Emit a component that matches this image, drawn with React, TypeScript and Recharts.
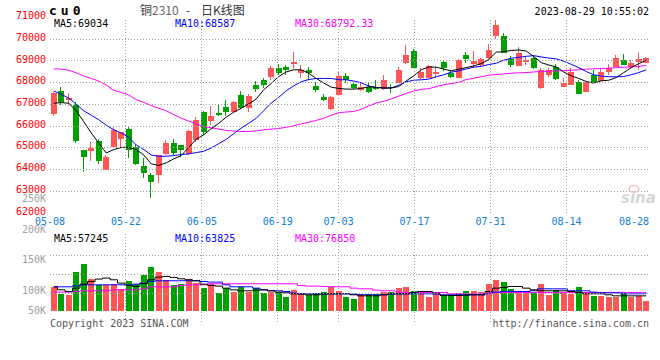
import { ComposedChart, Bar, Line, XAxis, YAxis, ReferenceArea } from 'recharts';

const MONO = '"DejaVu Sans Mono", monospace';
const RED = '#ff5555';
const GREEN = '#00a000';
const DATE_BLUE = '#0f7fd8';
const GRID = '#a0a0a0';

// panel layout (matches the chart margins below)
const PLOT_LEFT = 50;
const PLOT_RIGHT = 650;
const PRICE_TOP = 20;
const PRICE_BOTTOM = 213;
const VOL_TOP = 234;
const VOL_BOTTOM = 311;
const VOL_LABEL_MAX = 314.4; // lowest baseline for volume axis labels

const DATES = [
  '05-08', '05-09', '05-10', '05-11', '05-12', '05-15', '05-16', '05-17', '05-18', '05-19',
  '05-22', '05-23', '05-24', '05-25', '05-26', '05-29', '05-30', '05-31', '06-01', '06-02',
  '06-05', '06-06', '06-07', '06-08', '06-09', '06-12', '06-13', '06-14', '06-15', '06-16',
  '06-19', '06-20', '06-21', '06-26', '06-27', '06-28', '06-29', '06-30', '07-03', '07-04',
  '07-05', '07-06', '07-07', '07-10', '07-11', '07-12', '07-13', '07-14', '07-17', '07-18',
  '07-19', '07-20', '07-21', '07-24', '07-25', '07-26', '07-27', '07-28', '07-31', '08-01',
  '08-02', '08-03', '08-04', '08-07', '08-08', '08-09', '08-10', '08-11', '08-14', '08-15',
  '08-16', '08-17', '08-18', '08-21', '08-22', '08-23', '08-24', '08-25', '08-28', '08-29',
];
const DATE_TICKS = ['05-08', '05-22', '06-05', '06-19', '07-03', '07-17', '07-31', '08-14', '08-28'];
const GRID_DATES = ['05-22', '06-05', '06-19', '07-03', '07-17', '07-31', '08-14'];

const OPEN = [
  66550, 67600, 67170, 66990, 64890, 64890, 65310, 64000, 65010, 65370,
  65860, 65020, 64170, 63760, 63770, 64700, 65220, 65130, 64700, 65330,
  66650, 66240, 66590, 66880, 66650, 67430, 66820, 67880, 68110, 68270,
  68660, 68720, 68860, 68450, 68590, 67840, 67340, 66790, 67440, 68300,
  67920, 67660, 67810, 67820, 67730, 67780, 68010, 68920, 69470, 68230,
  68230, 68430, 68970, 68420, 68230, 69290, 68890, 68830, 69150, 70150,
  70150, 69100, 68800, 68980, 69150, 67780, 68390, 68740, 67780, 67920,
  68050, 67570, 68330, 68100, 68510, 68740, 69060, 68740, 68970, 68920,
];
const HIGH = [
  67550, 67800, 67500, 67110, 64900, 65280, 65400, 64670, 66010, 65740,
  65980, 65180, 64520, 63850, 64670, 65360, 65400, 65140, 65800, 66440,
  66710, 66910, 67020, 67200, 67150, 67610, 67470, 68070, 68230, 68770,
  68860, 68800, 69410, 68800, 68710, 68010, 67470, 67370, 68490, 68430,
  68040, 68010, 68010, 68140, 68370, 67920, 68740, 69740, 69560, 68690,
  68800, 68740, 68980, 68570, 69100, 69420, 69470, 69110, 69790, 70900,
  70260, 69240, 69650, 69190, 69240, 68690, 68690, 68870, 68190, 68650,
  68140, 68020, 68570, 68690, 68870, 69290, 69330, 69060, 69380, 69190,
];
const LOW = [
  66440, 66990, 66900, 65220, 63910, 64400, 64260, 63990, 65000, 65010,
  64490, 64200, 63580, 62720, 63390, 64690, 64600, 64580, 64640, 65280,
  65600, 66030, 66450, 66450, 66610, 66790, 66620, 67550, 67760, 68130,
  68360, 68360, 68650, 68220, 68130, 67550, 67150, 66710, 67400, 67950,
  67700, 67600, 67500, 67660, 67660, 67500, 67990, 68870, 68690, 68190,
  68220, 68230, 68510, 68220, 68220, 68920, 68690, 68690, 69100, 70030,
  69370, 68750, 68790, 68800, 68650, 67730, 68280, 68140, 67770, 67900,
  67510, 67550, 67980, 68090, 68370, 68730, 68820, 68690, 68600, 68910,
];
const CLOSE = [
  67500, 67080, 67270, 65330, 64580, 65010, 64370, 64580, 65810, 65710,
  64890, 64220, 63850, 63440, 64670, 65220, 64760, 64920, 65770, 66270,
  65720, 66450, 66520, 66670, 67110, 66850, 67380, 67700, 67870, 68680,
  68450, 68590, 68950, 68570, 68450, 67660, 67200, 67340, 68300, 68110,
  67730, 67810, 67600, 67730, 68140, 67730, 68600, 69290, 68710, 68510,
  68780, 68510, 68690, 68230, 69060, 69100, 69010, 69100, 69510, 70640,
  69390, 68830, 69380, 69060, 68690, 68600, 68600, 68190, 67960, 68510,
  67520, 68010, 67990, 68510, 68690, 69150, 68830, 68920, 69100, 69150,
];
const MA5 = [
  67050, 67080, 67050, 66700, 66200, 65680, 65220, 64760, 64920, 65020,
  65020, 64920, 64670, 64260, 64190, 64310, 64490, 64640, 65020, 65400,
  65600, 65880, 66130, 66410, 66640, 66820, 67020, 67250, 67670, 67960,
  68280, 68490, 68590, 68590, 68430, 68190, 67980, 67790, 67730, 67700,
  67700, 67730, 67810, 67780, 67750, 67750, 67820, 68080, 68310, 68590,
  68720, 68710, 68620, 68540, 68620, 68690, 68770, 68870, 69060, 69400,
  69420, 69480, 69500, 69450, 69200, 68920, 68810, 68720, 68490, 68310,
  68190, 68050, 67980, 68080, 68110, 68230, 68460, 68690, 68870, 69034,
];
const MA10 = [
  67610, 67460, 67290, 67000, 66700, 66500, 66290, 66040, 65830, 65680,
  65480, 65130, 64920, 64670, 64610, 64610, 64640, 64690, 64720, 64780,
  64840, 64990, 65190, 65390, 65650, 65910, 66130, 66360, 66710, 67060,
  67320, 67630, 67850, 68040, 68140, 68190, 68190, 68190, 68130, 68130,
  68070, 67990, 67840, 67780, 67750, 67750, 67880, 68040, 68110, 68130,
  68160, 68270, 68360, 68480, 68540, 68630, 68710, 68750, 68830, 68890,
  69030, 69120, 69160, 69210, 69240, 69180, 69130, 69090, 68980, 68840,
  68690, 68510, 68360, 68300, 68270, 68270, 68280, 68360, 68460, 68587,
];
const MA30 = [
  68630, 68620, 68570, 68450, 68300, 68190, 68070, 67880, 67640, 67550,
  67430, 67220, 67090, 66940, 66820, 66700, 66530, 66360, 66230, 66090,
  65980, 65920, 65860, 65800, 65770, 65750, 65750, 65780, 65830, 65860,
  65890, 65940, 66010, 66100, 66180, 66260, 66360, 66500, 66610, 66650,
  66670, 66770, 66930, 67060, 67140, 67250, 67380, 67500, 67610, 67690,
  67720, 67820, 67900, 67960, 68010, 68140, 68200, 68270, 68340, 68370,
  68400, 68430, 68450, 68460, 68490, 68510, 68520, 68540, 68550, 68570,
  68590, 68620, 68630, 68650, 68660, 68690, 68710, 68720, 68740, 68792.33,
];
const VOLUME = [
  109300, 97900, 96300, 133700, 146700, 122300, 112500, 112500, 113600, 106000,
  119100, 114200, 128800, 141900, 133700, 120700, 112500, 114200, 122300, 115800,
  107700, 114200, 99500, 107700, 101100, 109300, 101100, 107700, 99500, 101100,
  101100, 93000, 104400, 99500, 96300, 99500, 101100, 109300, 102800, 93000,
  89700, 97900, 97900, 97900, 101100, 101100, 107700, 109300, 102800, 101100,
  93000, 97900, 94600, 96300, 99500, 102800, 102800, 101100, 114200, 120700,
  117400, 106000, 102800, 99500, 101100, 114200, 96300, 104400, 99500, 97900,
  109300, 101100, 94600, 94600, 93000, 93000, 99500, 93000, 94600, 86500,
];
const VMA5 = [
  109300, 104400, 101700, 107100, 113600, 118000, 121800, 123400, 120700, 115300,
  111500, 109800, 114700, 120700, 125000, 126100, 124500, 122300, 120700, 119100,
  113600, 111500, 110400, 107100, 104400, 102800, 102800, 103900, 104400, 102800,
  100600, 99500, 97900, 97400, 96300, 96300, 97400, 97900, 97900, 97900,
  96300, 94600, 94600, 94600, 96300, 97900, 97900, 97900, 100100, 101700,
  101700, 99000, 95200, 95200, 95200, 95700, 96300, 96300, 101700, 107100,
  108200, 109800, 109800, 107100, 104400, 102800, 102800, 102800, 102800, 101700,
  100100, 97900, 97900, 97900, 96300, 94600, 94600, 94600, 94600, 94600,
];
const VMA10 = [
  109300, 109300, 109300, 110900, 112500, 112500, 112500, 112500, 112500, 112500,
  112500, 113600, 115300, 118000, 119100, 119100, 119100, 119100, 119100, 119100,
  118000, 116900, 116900, 112500, 109300, 109300, 109300, 107100, 104400, 102800,
  102800, 101700, 99000, 97900, 97900, 97900, 97900, 97900, 97900, 97900,
  97400, 96300, 96300, 96300, 96300, 97400, 97900, 97900, 97900, 97900,
  97900, 97400, 96300, 96300, 96300, 96300, 96300, 96300, 99000, 100600,
  101700, 101700, 101700, 101700, 102800, 106000, 106000, 106000, 106000, 102800,
  102800, 102800, 100600, 99500, 99500, 99500, 97900, 97900, 97900, 97900,
];
const VMA30 = [
  100600, 100600, 100600, 101700, 102800, 102800, 102800, 102800, 103900, 104400,
  104400, 104400, 106000, 109300, 109300, 109300, 109300, 111500, 112500, 112500,
  112500, 114200, 114200, 114200, 114200, 114200, 114200, 114200, 114200, 114200,
  114200, 114200, 114200, 111500, 110400, 110400, 109800, 109300, 109300, 109300,
  107100, 106000, 106000, 103900, 102800, 102800, 100600, 100100, 100100, 100100,
  100100, 100100, 100100, 97900, 97900, 97900, 97900, 97900, 97900, 100100,
  100100, 100100, 100100, 100100, 100100, 100100, 100100, 100100, 100100, 100100,
  100100, 100100, 100100, 100100, 100100, 100100, 100100, 100100, 100100, 100100,
];

const PRICE_TICKS = [62000, 63000, 64000, 65000, 66000, 67000, 68000, 69000, 70000, 71000];
const PRICE_GRID = [63000, 64000, 65000, 66000, 67000, 68000, 69000, 70000];
const VOL_TICKS = [50000, 100000, 150000, 200000, 250000];
const VOL_GRID = [98000, 129000, 160000];

const rows = DATES.map((date, i) => ({
  date,
  open: OPEN[i],
  high: HIGH[i],
  low: LOW[i],
  close: CLOSE[i],
  volume: VOLUME[i],
  ma5: MA5[i],
  ma10: MA10[i],
  ma30: MA30[i],
  vma5: VMA5[i],
  vma10: VMA10[i],
  vma30: VMA30[i],
}));

const upColor = (d: any) => (d.close >= d.open ? RED : GREEN);

// dotted 1px lines (1 on, 2 off) as plain path segments, snapped to the pixel grid
function dotsV(x: number, y0: number, y1: number) {
  const X = Math.floor(x) + 0.5;
  let d = '';
  for (let y = Math.round(y0); y < Math.round(y1); y += 3) d += `M${X} ${y}v1`;
  return d;
}
function dotsH(y: number, x0: number, x1: number) {
  const Y = Math.floor(y) + 0.5;
  let d = '';
  for (let x = Math.round(x0); x < Math.round(x1); x += 3) d += `M${x} ${Y}h1`;
  return d;
}

function Candle(props: any) {
  const { x, y, width, height, payload } = props;
  const k = height / (payload.high - payload.low);
  const top = y + (payload.high - Math.max(payload.open, payload.close)) * k;
  const bot = y + (payload.high - Math.min(payload.open, payload.close)) * k;
  const bx = Math.floor(x);
  const c = upColor(payload);
  return (
    <g shapeRendering="crispEdges">
      <rect x={bx + 2} y={Math.round(y)} width={1} height={Math.max(1, Math.round(height))} fill={c} />
      <rect x={bx} y={Math.round(top)} width={Math.round(width)} height={Math.max(1, Math.round(bot - top))} fill={c} />
    </g>
  );
}

function VolBar(props: any) {
  const { x, y, width, height, payload } = props;
  const top = Math.round(y);
  return (
    <rect x={Math.floor(x)} y={top} width={Math.round(width)} height={Math.round(y + height) - top}
      fill={upColor(payload)} shapeRendering="crispEdges" />
  );
}

// price axis tick: red label, plus the dotted horizontal grid line for inner values
function PriceTick(props: any) {
  const { x, y, payload } = props;
  return (
    <g>
      {PRICE_GRID.includes(payload.value) && (
        <path d={dotsH(y, PLOT_LEFT, PLOT_RIGHT)} stroke={GRID} strokeWidth={1} fill="none" />
      )}
      <text x={x} y={y + 1.7} textAnchor="end" fill="#ff0000" fontSize={10} fontFamily={MONO}>
        {payload.value}
      </text>
    </g>
  );
}

// volume axis tick: grey label, or a dotted grid line for the grid values
function VolTick(props: any) {
  const { x, y, payload } = props;
  if (VOL_GRID.includes(payload.value)) {
    return <path d={dotsH(y, PLOT_LEFT, PLOT_RIGHT)} stroke={GRID} strokeWidth={1} fill="none" />;
  }
  return (
    <text x={x} y={Math.min(y + 1.7, VOL_LABEL_MAX)} textAnchor="end" fill="#a0a0a0" fontSize={10} fontFamily={MONO}>
      {payload.value / 1000}K
    </text>
  );
}

// date tick: blue label (kept inside the plot on the right), plus vertical dotted grid line
function DateTick(props: any) {
  const { x, y, payload } = props;
  const cx = Math.min(x, PLOT_RIGHT - 16);
  return (
    <g>
      {GRID_DATES.includes(payload.value) && (
        <path d={dotsV(x, PRICE_TOP, PRICE_BOTTOM)} stroke={GRID} strokeWidth={1} fill="none" />
      )}
      <text x={cx} y={y + 12} textAnchor="middle" fill={DATE_BLUE} fontSize={10} fontFamily={MONO}>
        {payload.value}
      </text>
    </g>
  );
}

// volume panel date tick: only the dotted vertical line, running a little below the panel
function VolDateTick(props: any) {
  const { x } = props;
  return <path d={dotsV(x, VOL_TOP, VOL_BOTTOM + 11)} stroke={GRID} strokeWidth={1} fill="none" />;
}

export default function App() {
  return (
    <div style={{ position: 'absolute', left: 0, top: 0, width: 660, height: 360, background: '#fff', overflow: 'hidden', fontFamily: MONO }}>
      {/* volume panel (its svg is full height so the upper axis labels can show) */}
      <div style={{ position: 'absolute', left: 0, top: 0 }}>
        <ComposedChart width={660} height={360} data={rows} margin={{ top: VOL_TOP, right: 10, bottom: 48, left: 0 }}>
          <XAxis xAxisId="g" dataKey="date" scale="point" ticks={GRID_DATES} interval={0} tick={<VolDateTick />}
            tickLine={false} axisLine={false} tickSize={0} tickMargin={0} height={1} />
          <XAxis xAxisId="c" dataKey="date" hide height={0} />
          <YAxis domain={[70000, 195000]} allowDataOverflow ticks={[...VOL_TICKS, ...VOL_GRID]} interval={0} tick={<VolTick />}
            tickLine={false} axisLine={false} tickSize={2} tickMargin={2} width={50} />
          <Bar xAxisId="c" dataKey="volume" barSize={6} shape={<VolBar />} isAnimationActive={false} />
          <Line xAxisId="c" type="step" dataKey="vma30" stroke="#ff00ff" strokeWidth={1} dot={false} activeDot={false} isAnimationActive={false} />
          <Line xAxisId="c" type="step" dataKey="vma10" stroke="#0000ff" strokeWidth={1} dot={false} activeDot={false} isAnimationActive={false} />
          <Line xAxisId="c" type="step" dataKey="vma5" stroke="#000000" strokeWidth={1} dot={false} activeDot={false} isAnimationActive={false} />
          <ReferenceArea xAxisId="c" fill="none" stroke="#999" ifOverflow="visible" />
        </ComposedChart>
      </div>

      {/* price panel */}
      <div style={{ position: 'absolute', left: 0, top: 0 }}>
        <ComposedChart width={660} height={232} data={rows} margin={{ top: PRICE_TOP, right: 10, bottom: 0, left: 0 }}>
          <XAxis xAxisId="g" dataKey="date" scale="point" ticks={DATE_TICKS} interval={0} tick={<DateTick />}
            tickLine={false} axisLine={false} tickSize={0} tickMargin={0} height={19} />
          <XAxis xAxisId="c" dataKey="date" hide height={0} />
          <YAxis domain={[62000, 70880]} allowDataOverflow ticks={PRICE_TICKS} interval={0} tick={<PriceTick />}
            tickLine={false} axisLine={false} tickSize={2} tickMargin={2} width={50} />
          <Bar xAxisId="c" dataKey={(d: any) => [d.low, d.high]} barSize={6} shape={<Candle />} isAnimationActive={false} />
          <Line xAxisId="c" type="linear" dataKey="ma30" stroke="#ff00ff" strokeWidth={1} dot={false} activeDot={false} isAnimationActive={false} />
          <Line xAxisId="c" type="linear" dataKey="ma10" stroke="#0000ff" strokeWidth={1} dot={false} activeDot={false} isAnimationActive={false} />
          <Line xAxisId="c" type="linear" dataKey="ma5" stroke="#000000" strokeWidth={1} dot={false} activeDot={false} isAnimationActive={false} />
          <ReferenceArea xAxisId="c" fill="none" stroke="#999" ifOverflow="visible" />
        </ComposedChart>
      </div>

      {/* header, legends, footer */}
      <svg width={660} height={360} style={{ position: 'absolute', left: 0, top: 0, pointerEvents: 'none' }}>
        <text x={49} y={15} fontFamily={MONO} fontWeight="bold" fontSize={13} letterSpacing={4} fill="#000">cu0</text>
        <text x={140} y={15} fontFamily='"Noto Sans CJK SC", sans-serif' fontSize={12} fill="#333">
          铜<tspan fill="#666">2310</tspan>
          <tspan x={186}>-</tspan>
          <tspan x={201}>日K线图</tspan>
        </text>
        <text x={649} y={15.3} textAnchor="end" fontFamily={MONO} fontSize={10} fill="#000">2023-08-29 10:55:02</text>

        <text x={54} y={27.3} fontFamily={MONO} fontSize={10} fill="#000">MA5:69034</text>
        <text x={175} y={27.3} fontFamily={MONO} fontSize={10} fill="#0000ff">MA10:68587</text>
        <text x={295} y={27.3} fontFamily={MONO} fontSize={10} fill="#ff00ff">MA30:68792.33</text>

        <text x={54} y={242.4} fontFamily={MONO} fontSize={10} fill="#000">MA5:57245</text>
        <text x={175} y={242.4} fontFamily={MONO} fontSize={10} fill="#0000ff">MA10:63825</text>
        <text x={295} y={242.4} fontFamily={MONO} fontSize={10} fill="#ff00ff">MA30:76850</text>

        <text x={621} y={203} fontFamily='"DejaVu Sans", sans-serif' fontStyle="italic" fontWeight="bold" fontSize={15} fill="#d6d6d6">sina</text>
        <ellipse cx={634} cy={189} rx={5} ry={3.5} fill="none" stroke="#f2c4c4" strokeWidth={1.5} />

        <text x={50} y={327} fontFamily={MONO} fontSize={10} fill="#555">Copyright 2023 SINA.COM</text>
        <text x={649} y={327} textAnchor="end" fontFamily={MONO} fontSize={10} fill="#555">http://finance.sina.com.cn</text>
      </svg>
    </div>
  );
}
